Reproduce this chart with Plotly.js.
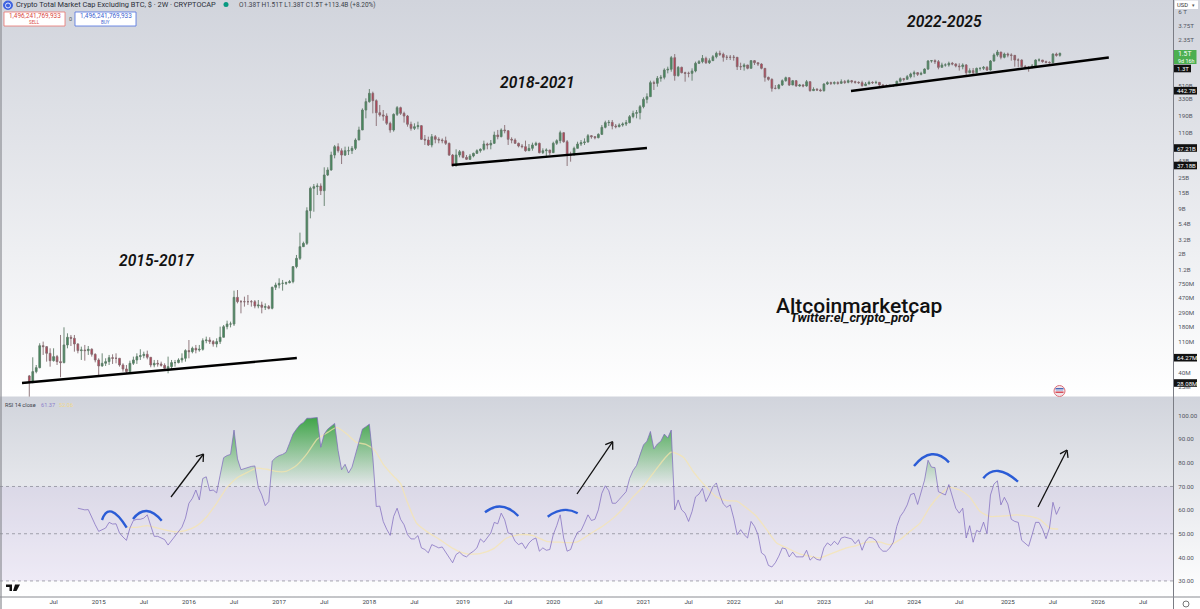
<!DOCTYPE html>
<html><head><meta charset="utf-8">
<script src="https://cdn.plot.ly/plotly-3.0.1.min.js"></script>
<style>
html,body{margin:0;padding:0;width:1200px;height:609px;overflow:hidden}
#c{width:1200px;height:609px;background:linear-gradient(#d1d4dc 0,#ffffff 396px,#d1d4dc 397px,#ffffff 597px,#ffffff 609px)}
</style></head><body><div id="c"></div>
<script>
// Values. Prices are log10(USD), one entry per 2-week bar.
const firstOpenLog10 = 7.555;
const closeLog10 = [
7.464,7.617,7.674,7.989,7.975,7.879,7.774,7.832,7.760,7.746,
7.999,8.109,8.094,8.013,7.918,7.927,7.918,7.937,7.865,7.784,
7.698,7.736,7.760,7.817,7.808,7.808,7.712,7.655,7.617,7.736,
7.784,7.832,7.846,7.865,7.822,7.712,7.736,7.727,7.707,7.664,
7.688,7.746,7.746,7.784,7.808,7.918,7.903,7.951,7.927,7.937,
8.061,8.070,8.047,8.013,8.047,8.109,8.261,8.299,8.299,8.681,
8.619,8.619,8.619,8.619,8.619,8.557,8.571,8.538,8.548,8.524,
8.825,8.858,8.882,8.882,8.891,8.906,9.121,9.240,9.407,9.455,
9.923,10.243,10.267,10.276,10.209,10.434,10.506,10.720,10.840,10.782,
10.720,10.782,10.782,10.816,10.935,11.079,11.365,11.485,11.604,11.499,
11.327,11.294,11.279,11.174,11.079,11.303,11.399,11.317,11.279,11.160,
11.102,11.126,11.141,10.945,10.935,10.864,10.983,10.945,10.935,10.926,
10.888,10.720,10.563,10.720,10.768,10.687,10.658,10.706,10.744,10.782,
10.802,10.878,10.864,10.888,11.007,10.983,11.079,11.069,10.945,10.935,
10.888,10.849,10.840,10.782,10.816,10.864,10.888,10.754,10.782,10.792,
10.754,10.888,10.926,11.040,10.911,10.720,10.720,10.816,10.878,10.897,
10.907,10.997,10.983,10.969,11.016,11.117,11.184,11.188,11.136,11.126,
11.150,11.164,11.184,11.270,11.317,11.327,11.413,11.518,11.556,11.757,
11.747,11.819,11.833,11.938,11.948,12.115,11.857,11.976,11.900,11.890,
11.890,11.924,12.034,12.058,12.105,12.043,12.072,12.129,12.177,12.163,
12.120,12.120,12.120,12.120,11.986,11.986,12.010,11.962,12.072,12.043,
12.024,11.962,11.833,11.804,11.675,11.675,11.723,11.785,11.828,11.723,
11.785,11.709,11.723,11.709,11.771,11.642,11.661,11.652,11.642,11.738,
11.757,11.747,11.757,11.747,11.771,11.761,11.785,11.771,11.761,11.757,
11.714,11.738,11.761,11.757,11.761,11.723,11.709,11.709,11.714,11.714,
11.776,11.814,11.804,11.843,11.881,11.900,11.876,11.890,11.952,12.067,
12.072,12.058,11.976,12.010,12.010,12.034,12.024,11.995,11.986,12.010,
11.900,11.929,11.900,11.962,11.962,11.976,11.938,12.067,12.153,12.196,
12.120,12.167,12.153,12.148,12.081,12.081,11.986,11.976,11.976,11.995,
12.081,12.081,12.058,12.048,12.043,12.167,12.148,12.177];
const highLog10 = [
7.569,7.822,7.712,8.023,8.047,7.951,7.951,7.951,7.856,8.142,
8.252,8.166,8.142,8.142,8.023,7.975,7.999,7.984,7.951,7.879,
7.808,7.879,7.808,7.856,7.865,7.879,7.808,7.736,7.712,7.774,
7.832,7.879,7.937,7.903,7.918,7.822,7.784,7.784,7.760,7.736,
7.832,7.784,7.784,7.808,7.879,7.937,8.070,7.975,7.999,7.999,
8.094,8.118,8.109,8.070,8.094,8.261,8.285,8.347,8.333,8.777,
8.786,8.643,8.691,8.715,8.643,8.643,8.643,8.619,8.595,8.571,
8.834,8.892,8.954,8.930,8.906,8.930,9.130,9.288,9.608,9.479,
9.971,10.267,10.305,10.314,10.314,10.544,10.544,10.768,10.864,10.888,
10.816,10.840,10.840,10.849,10.959,11.126,11.389,11.532,11.666,11.628,
11.518,11.437,11.365,11.317,11.198,11.317,11.422,11.413,11.341,11.294,
11.198,11.174,11.198,11.150,11.007,10.983,11.021,11.007,10.974,10.959,
10.983,10.897,10.735,10.802,10.792,10.782,10.720,10.735,10.754,10.802,
10.816,10.926,10.897,10.935,11.055,11.079,11.102,11.150,11.069,10.974,
10.959,10.897,10.878,10.926,10.878,10.897,10.911,10.897,10.816,10.816,
10.782,10.911,10.945,11.069,11.031,10.935,10.768,10.840,10.911,10.935,
10.959,11.021,11.007,10.992,11.031,11.150,11.212,11.222,11.222,11.164,
11.174,11.188,11.222,11.293,11.355,11.365,11.437,11.547,11.604,11.785,
11.785,11.852,11.867,11.962,11.986,12.139,12.167,11.995,11.986,11.914,
11.914,11.962,12.058,12.081,12.153,12.129,12.105,12.153,12.201,12.215,
12.187,12.153,12.153,12.153,12.105,12.043,12.034,11.976,12.081,12.081,
12.043,12.034,11.962,11.843,11.819,11.723,11.738,11.804,11.843,11.833,
11.795,11.795,11.738,11.738,11.795,11.771,11.690,11.680,11.671,11.747,
11.776,11.771,11.776,11.776,11.804,11.795,11.804,11.795,11.785,11.776,
11.785,11.766,11.785,11.776,11.785,11.757,11.738,11.733,11.733,11.728,
11.785,11.833,11.824,11.867,11.900,11.929,11.909,11.914,11.962,12.081,
12.081,12.091,12.081,12.043,12.034,12.058,12.053,12.034,12.034,12.034,
12.024,11.962,11.967,11.972,11.976,11.995,11.995,12.081,12.177,12.225,
12.196,12.187,12.187,12.177,12.105,12.105,12.091,12.010,11.995,12.024,
12.091,12.105,12.081,12.072,12.062,12.177,12.187,12.187];
const lowLog10 = [
7.259,7.450,7.593,7.664,7.856,7.760,7.688,7.760,7.712,7.536,
7.736,7.951,7.984,7.903,7.879,7.784,7.774,7.856,7.832,7.750,
7.545,7.688,7.698,7.712,7.727,7.736,7.688,7.617,7.593,7.617,
7.712,7.727,7.784,7.808,7.793,7.679,7.679,7.688,7.688,7.650,
7.593,7.641,7.688,7.736,7.746,7.760,7.808,7.879,7.879,7.903,
7.918,8.023,8.013,7.975,7.965,8.013,8.108,8.223,8.251,8.271,
8.595,8.452,8.548,8.571,8.548,8.524,8.524,8.452,8.500,8.509,
8.509,8.786,8.810,8.777,8.858,8.882,8.882,9.097,9.216,9.407,
9.431,9.813,9.908,10.147,10.147,9.990,10.419,10.496,10.673,10.754,
10.591,10.706,10.720,10.735,10.792,10.935,11.079,11.246,11.470,11.317,
11.136,11.270,11.212,11.150,11.040,11.055,11.279,11.294,11.184,11.126,
11.069,11.079,11.088,10.935,10.864,10.849,10.830,10.888,10.888,10.888,
10.864,10.706,10.563,10.563,10.687,10.673,10.649,10.649,10.687,10.735,
10.754,10.782,10.802,10.802,10.878,10.945,10.974,11.031,10.864,10.888,
10.878,10.830,10.816,10.768,10.782,10.782,10.849,10.744,10.735,10.706,
10.720,10.754,10.864,10.888,10.897,10.563,10.625,10.720,10.816,10.849,
10.864,10.897,10.954,10.945,10.959,11.007,11.102,11.136,11.088,11.102,
11.117,11.126,11.136,11.174,11.246,11.246,11.231,11.389,11.461,11.556,
11.652,11.699,11.771,11.804,11.890,11.914,11.785,11.843,11.890,11.771,
11.833,11.785,11.905,12.024,12.034,12.024,12.024,12.072,12.105,12.139,
12.058,12.081,12.081,12.072,11.938,11.938,11.929,11.948,11.962,12.010,
11.995,11.948,11.771,11.785,11.628,11.661,11.661,11.709,11.771,11.709,
11.723,11.699,11.699,11.690,11.699,11.628,11.642,11.637,11.628,11.628,
11.723,11.723,11.728,11.728,11.738,11.738,11.747,11.747,11.742,11.738,
11.699,11.709,11.733,11.738,11.738,11.709,11.699,11.695,11.699,11.695,
11.723,11.757,11.776,11.804,11.819,11.833,11.852,11.862,11.900,11.938,
12.043,12.024,11.948,11.976,11.986,11.986,12.005,11.976,11.929,11.948,
11.867,11.890,11.876,11.890,11.929,11.938,11.924,11.929,12.058,12.129,
12.091,12.105,12.120,12.072,11.986,11.976,11.976,11.962,11.914,11.962,
11.986,12.058,12.043,12.034,12.029,12.034,12.129,12.129];
// RSI 14 close, one entry per bar, beginning at bar 14
const rsiFirstBar = 14;
const rsi = [
60.8,60.3,60.1,60.2,56.6,53.8,51.0,51.7,52.4,54.8,
54.1,54.2,50.3,48.6,47.2,52.4,55.6,56.1,56.1,56.6,
58.0,53.4,48.9,48.9,48.2,47.5,45.2,47.1,48.9,50.6,
52.8,56.6,62.9,65.0,68.5,64.3,73.4,74.1,68.2,68.5,
67.3,74.8,82.2,83.1,83.6,93.9,81.7,77.1,77.6,78.2,
78.5,78.7,69.6,66.4,61.9,63.6,80.8,82.2,83.1,83.6,
84.5,88.3,92.2,94.3,96.2,97.1,98.9,98.9,99.2,99.2,
86.6,92.2,94.3,95.7,96.7,85.2,77.1,79.4,75.7,78.2,
83.8,89.7,94.3,95.3,96.4,82.4,61.5,61.7,55.2,51.9,
49.3,57.3,60.8,56.1,53.8,49.6,47.8,47.8,49.2,44.0,
43.3,41.9,45.4,44.7,44.0,44.4,42.2,39.8,37.7,41.2,
42.2,40.8,40.2,41.6,42.6,44.0,47.8,46.4,48.2,50.3,
54.8,54.2,58.7,55.9,50.3,49.9,46.8,45.4,46.1,43.7,
46.1,47.5,48.2,42.6,44.0,43.0,43.3,49.6,53.4,58.0,
48.2,42.6,43.3,47.5,50.6,51.3,54.5,58.0,55.6,56.1,
60.1,67.1,70.3,68.2,62.9,62.9,64.5,66.4,67.8,73.4,
76.8,78.9,83.8,87.6,89.2,93.3,85.9,88.0,89.2,92.2,
90.6,93.9,60.1,64.3,60.1,58.7,55.2,59.4,65.6,66.8,
69.2,63.6,66.4,69.9,71.5,66.4,62.6,61.2,62.2,56.6,
49.6,51.7,49.6,48.2,55.2,53.1,49.6,41.9,40.8,36.6,
35.9,37.7,40.5,44.0,43.6,40.2,42.2,40.2,40.2,40.2,
43.0,38.8,40.2,39.1,38.8,44.0,46.1,45.0,46.8,45.4,
48.2,48.6,48.2,47.8,45.8,47.5,43.0,46.8,48.5,48.2,
47.1,44.0,42.6,42.6,44.0,46.4,53.1,57.3,59.4,62.2,
66.6,67.1,62.4,67.3,72.7,81.1,78.2,78.0,67.8,67.1,
66.4,70.8,65.6,60.8,58.7,60.8,48.2,53.4,46.4,51.4,
50.7,54.9,50.0,66.4,71.0,72.4,62.2,65.4,62.6,56.1,
55.2,54.8,47.2,46.1,44.7,49.6,54.8,54.8,51.9,47.9,
52.4,63.3,58.2,61.37];
// RSI moving average, read at these bars
const maBars = [28,31,34,37,40,42.5,45,48,51,54,57,60,63,65.5,68.4,71,74,77,80,83,86,88.6,91.5,94.3,97,99.6,102,105,107,108.7,111.6,114.5,118.3,122.2,126,129.9,133.7,137.6,141.4,145.2,149,153,157.7,161.6,165.4,168.3,171.2,174,177,180.8,185,188.5,191.4,194.2,198,201,203.9,206.8,209.6,212.5,215.4,218.3,222,225,227.9,231.7,235.5,238.4,241.3,245.2,248,250.9,253.8,256.7,259.6,262.4,265.3,268.2,271,274,276.8,280.7,284.5,288.4,291.2,294.1,296.5];
const maValues = [52.7,52.7,53.4,52.4,51.3,50.8,51.3,53.1,57.0,62.9,69.6,73.8,76.1,77.8,77.3,76.4,76.4,78.9,83.8,90.1,92.9,95.0,92.2,88.7,87.8,85.2,79.4,74.3,71.2,64.3,54.5,51.0,47.5,43.7,41.5,41.6,43.6,48.2,49.6,49.2,46.8,46.4,46.4,49.9,53.4,56.6,60.8,65.6,70.1,77.6,84.5,82.4,76.2,71.2,65.6,64.0,63.8,60.8,57.3,51.7,46.1,44.0,41.5,40.5,39.8,41.9,44.0,45.0,46.4,46.4,45.4,47.5,51.0,54.5,61.5,66.4,69.6,68.5,65.6,59.4,57.3,57.5,58.0,57.3,56.1,52.4,52.0];
// Trend lines: [bar, log10 price]
const trendBars = [[-2.1,77.1],[121.8,178],[236.8,311.1]];
const trendLog10 = [[7.454,7.812],[10.577,10.821],[11.637,12.117]];
// Axis labels
const xTickBars = [7,20,33,46,59,72,85,98,111,125,138,151,164,177,190,203,216,229,242,255,268,282,295,308,321];
const xTickText = ['Jul','2015','Jul','2016','Jul','2017','Jul','2018','Jul','2019','Jul','2020','Jul','2021','Jul','2022','Jul','2023','Jul','2024','Jul','2025','Jul','2026','Jul'];
const priceTickVals = [6e12,3.75e12,2.35e12,5.1e11,3.3e11,1.9e11,1.1e11,4.3e10,2.5e10,1.5e10,9e9,5.4e9,3.2e9,2e9,1.2e9,7.5e8,4.7e8,2.9e8,1.8e8,1.1e8,4e7,2.5e7];
const priceTickText = ['6 T','3.75T','2.35T','510B','330B','190B','110B','43B','25B','15B','9B','5.4B','3.2B','2B','1.2B','750M','470M','290M','180M','110M','40M','25M'];
const rsiTickVals = [100,90,80,70,60,50,40,30];
const rsiTickText = ['100.00','90.00','80.00','70.00','60.00','50.00','40.00','30.00'];
const priceBadges = [['1.3T',68.5,1191],['442.7B',90.7,1197],['67.21B',148,1197],['37.18B',165.5,1197],['64.27M',357.7,1197],['28.08M',383,1197]];

const W=1200,H=609;
const FONT='Roboto, "Liberation Sans", sans-serif';
const px=v=>v/W, py=v=>1-v/H;
const P=v=>Math.pow(10,v);
const close=closeLog10.map(P), high=highLog10.map(P), low=lowLog10.map(P);
const open=[P(firstOpenLog10),...close.slice(0,-1)];
const bars=close.map((_,i)=>i);
const rsiBars=rsi.map((_,i)=>i+rsiFirstBar);

// polygons of the RSI above the 70 line
const fx=[],fy=[];
for(let i=0;i<rsi.length;i++){
  const r=rsi[i],prev=i?rsi[i-1]:r,b=rsiBars[i];
  if(r>70&&prev<=70&&i){fx.push(b-1+(70-prev)/(r-prev));fy.push(70);}
  if(r>70){fx.push(b);fy.push(r);}
  if(r<=70&&prev>70){fx.push(b-1+(prev-70)/(prev-r));fy.push(70);fx.push(null);fy.push(null);}
}

const traces=[
 {type:'scatter',mode:'lines',x:fx,y:fy,xaxis:'x',yaxis:'y2',fill:'toself',connectgaps:false,line:{width:0},hoverinfo:'skip',showlegend:false,
  fillcolor:'rgba(76,175,80,0.4)',
  fillgradient:{type:'vertical',start:70,stop:100,colorscale:[[0,'rgba(76,175,80,0)'],[1,'rgba(50,160,60,0.95)']]}},
 {type:'scatter',mode:'lines',x:maBars,y:maValues,xaxis:'x',yaxis:'y2',line:{color:'rgba(248,230,170,0.7)',width:1.3,shape:'spline',smoothing:0.6},hoverinfo:'skip',showlegend:false},
 {type:'scatter',mode:'lines',x:rsiBars,y:rsi,xaxis:'x',yaxis:'y2',line:{color:'rgba(126,105,190,0.72)',width:1},hoverinfo:'skip',showlegend:false},
 {type:'candlestick',x:bars,open,high,low,close,xaxis:'x',yaxis:'y',whiskerwidth:0,hoverinfo:'skip',showlegend:false,
  increasing:{fillcolor:'#3f8a5a',line:{color:'#5f7d69',width:0.9}},
  decreasing:{fillcolor:'#c2384f',line:{color:'#866b70',width:0.9}}},
];
trendBars.forEach((b,i)=>traces.push({type:'scatter',mode:'lines',x:b,y:trendLog10[i].map(P),xaxis:'x',yaxis:'y',line:{color:'#000',width:2.4},hoverinfo:'skip',showlegend:false}));

const shapes=[];
const rectP=(x0,y0,x1,y1,fill,line,lw)=>shapes.push({type:'rect',xref:'paper',yref:'paper',x0:px(x0),x1:px(x1),y0:py(y0),y1:py(y1),fillcolor:fill,line:{color:line||'rgba(0,0,0,0)',width:lw||0},layer:'above'});
const lineP=(x0,y0,x1,y1,c,w)=>shapes.push({type:'line',xref:'paper',yref:'paper',x0:px(x0),x1:px(x1),y0:py(y0),y1:py(y1),line:{color:c,width:w},layer:'above'});
// RSI band and levels
shapes.push({type:'rect',xref:'paper',yref:'y2',x0:0,x1:px(1173),y0:30,y1:70,fillcolor:'rgba(126,87,194,0.10)',line:{width:0},layer:'below'});
[70,50,30].forEach(v=>shapes.push({type:'line',xref:'paper',yref:'y2',x0:0,x1:px(1173),y0:v,y1:v,line:{color:'#8f8f9c',width:0.8,dash:'3px,3px'},layer:'below'}));
// frame
lineP(1173.5,0,1173.5,609,'#7b7d85',1);
lineP(0,597,1200,597,'#8a8c92',1);
lineP(1,0,1,609,'#8a8c92',1.2);
// blue arcs
const arcs=[[102,520,111.7,511.7,126.7,527.7],[133,519,146.7,511,161.7,520.7],[485,512.3,501.7,506.7,518.3,516],[547.7,516.7,563,510,577.7,513.3],[914,466,931.7,454.3,949,462.3],[983.3,478.3,998.3,471,1018,481.7]];
arcs.forEach(a=>{const cx=2*a[2]-(a[0]+a[4])/2, cy=2*a[3]-(a[1]+a[5])/2;
 shapes.push({type:'path',xref:'paper',yref:'paper',path:`M ${px(a[0])} ${py(a[1])} Q ${px(cx)} ${py(cy)} ${px(a[4])} ${py(a[5])}`,line:{color:'#2b5cd6',width:2.4},layer:'above'});});
// black arrows
const arrows=[[171,497,203.5,454],[577,494,612.7,441.7],[1038,507,1067,450]];
arrows.forEach(a=>{const ang=Math.atan2(a[3]-a[1],a[2]-a[0]),L=8,s=0.6;
 const p=[[a[2]-L*Math.cos(ang-s),a[3]-L*Math.sin(ang-s)],[a[2]-L*Math.cos(ang+s),a[3]-L*Math.sin(ang+s)]];
 lineP(a[0],a[1],a[2],a[3],'#111',1.3);lineP(a[2],a[3],p[0][0],p[0][1],'#111',1.3);lineP(a[2],a[3],p[1][0],p[1][1],'#111',1.3);});
// header boxes
rectP(4,12,65,26,'#ffffff','#e8736f',0.8);
rectP(75,12,136,26,'#ffffff','#4d6fe0',0.8);
// logo
shapes.push({type:'circle',xref:'paper',yref:'paper',x0:px(3),x1:px(13),y0:py(10),y1:py(0.5),fillcolor:'#3f63e0',line:{width:0},layer:'above'});
shapes.push({type:'circle',xref:'paper',yref:'paper',x0:px(5.5),x1:px(10.5),y0:py(8),y1:py(3),fillcolor:'rgba(0,0,0,0)',line:{color:'#dfe6ff',width:1},layer:'above'});
shapes.push({type:'circle',xref:'paper',yref:'paper',x0:px(223.5),x1:px(228.5),y0:py(7),y1:py(2),fillcolor:'#089981',line:{width:0},layer:'above'});
// currency flag marker
shapes.push({type:'circle',xref:'paper',yref:'paper',x0:px(1054),x1:px(1065),y0:py(396.5),y1:py(385.5),fillcolor:'#f0e4e8',line:{color:'#e0707a',width:1},layer:'above'});
rectP(1055.5,391.5,1063.5,393,'#d8505a');
rectP(1055.5,388,1063.5,389.5,'#4a68b8');
rectP(1056,389.5,1063,391,'#b9c4e4');
// price badges
rectP(1174,50,1196.5,64,'#4caf50');
priceBadges.forEach(b=>rectP(1174,b[1]-3.8,b[2],b[1]+3.8,'#111'));
rectP(1175,0.5,1198,9,'#ffffff');
// TradingView mark
shapes.push({type:'path',xref:'paper',yref:'paper',path:`M ${px(6)} ${py(584.5)} H ${px(12)} V ${py(591)} H ${px(9.5)} V ${py(587)} H ${px(6)} Z`,fillcolor:'#111',line:{width:0},layer:'above'});
shapes.push({type:'path',xref:'paper',yref:'paper',path:`M ${px(15)} ${py(584.5)} H ${px(20)} L ${px(16.5)} ${py(591)} H ${px(13)} Z`,fillcolor:'#111',line:{width:0},layer:'above'});
// clock icon
shapes.push({type:'circle',xref:'paper',yref:'paper',x0:px(1183),x1:px(1189),y0:py(607),y1:py(601),fillcolor:'rgba(0,0,0,0)',line:{color:'#555',width:0.8},layer:'above'});

const ann=[];
const T=(x,y,text,size,color,o={})=>ann.push(Object.assign({xref:'paper',yref:'paper',x:px(x),y:py(y),text,showarrow:false,xanchor:'left',yanchor:'middle',font:{family:FONT,size,color},borderpad:0},o));
T(15,4.5,'Crypto Total Market Cap Excluding BTC, $ · 2W · CRYPTOCAP',7.4,'#2a2e39');
T(238,4.5,'O1.38T H1.51T L1.38T C1.5T +113.4B (+8.20%)',6.5,'#3b3f4a');
T(34.5,16,'1,496,241,769,933',6.4,'#d9483f',{xanchor:'center'});
T(34.5,22.5,'SELL',4.5,'#d9483f',{xanchor:'center'});
T(105.5,16,'1,496,241,769,933',6.4,'#3d5fd0',{xanchor:'center'});
T(105.5,22.5,'BUY',4.5,'#3d5fd0',{xanchor:'center'});
T(70,19,'0',5.5,'#555',{xanchor:'center'});
T(4,405,'RSI 14 close',5.6,'#3b3f4a');
T(40,405,'61.37',5.6,'#8d7fcb');
T(58,405,'52.06',5.6,'#f0d98c');
T(1176,4.5,'USD',5.8,'#333');
T(1193,4.5,'▾',5,'#555',{xanchor:'center'});
T(1177,54,'1.5T',6.8,'#ffffff');
T(1177,61,'9d 16h',5.4,'#ffffff');
priceBadges.forEach(b=>T(1176,b[1],b[0],6,'#ffffff'));
const note=(x,y,t,size,o)=>ann.push({xref:'paper',yref:'paper',x:px(x),y:py(y),text:t,showarrow:false,xanchor:'center',yanchor:'middle',font:Object.assign({family:FONT,size,color:'#111'},o)});
note(157,261,'2015-2017',15.6,{style:'italic',weight:600});
note(537.5,83,'2018-2021',15.6,{style:'italic',weight:600});
note(944.5,22,'2022-2025',15.6,{style:'italic',weight:600});
note(859,306,'Altcoinmarketcap',21,{weight:500});
note(853,317,'Twitter:el_crypto_prof',13,{style:'italic',weight:700});

const layout={
 width:W,height:H,margin:{l:0,r:0,t:0,b:0},paper_bgcolor:'rgba(0,0,0,0)',plot_bgcolor:'rgba(0,0,0,0)',showlegend:false,
 xaxis:{domain:[0,1173/W],range:[-8.44,329.6],anchor:'y2',tickmode:'array',tickvals:xTickBars,ticktext:xTickText,ticklen:0,showgrid:false,zeroline:false,showline:false,
  rangeslider:{visible:false},tickfont:{family:FONT,size:6.2,color:'#3b3f4a'},tickangle:0},
 yaxis:{domain:[1-397/H,1],type:'log',range:[7.2534,12.941],side:'right',anchor:'x',tickmode:'array',tickvals:priceTickVals,ticktext:priceTickText,ticklen:3,tickcolor:'rgba(0,0,0,0)',showgrid:false,zeroline:false,showline:false,tickfont:{family:FONT,size:6.2,color:'#51545e'}},
 yaxis2:{domain:[12/H,1-397/H],range:[23.2,107.9],side:'right',anchor:'x',tickmode:'array',tickvals:rsiTickVals,ticktext:rsiTickText,ticklen:3,tickcolor:'rgba(0,0,0,0)',showgrid:false,zeroline:false,showline:false,tickfont:{family:FONT,size:6.2,color:'#51545e'}},
 shapes,annotations:ann
};
Plotly.newPlot('c',traces,layout,{staticPlot:true,displayModeBar:false});
</script></body></html>
